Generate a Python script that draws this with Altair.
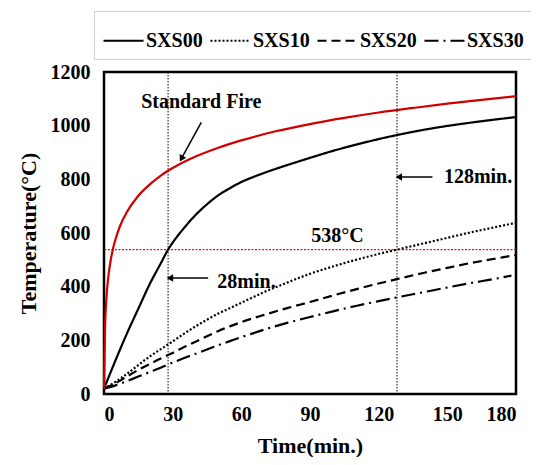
import altair as alt
import pandas as pd

# ---------------- data ----------------
series_names = ["SXS00", "SXS10", "SXS20", "SXS30"]

t_sxs = [0, 5, 10, 15, 20, 25, 28, 30, 35, 40, 45, 50, 55, 60, 65, 70, 80, 90, 100, 110, 120, 128, 140, 150, 160, 170, 180]
sxs00 = [20, 125, 225, 318, 410, 490, 538, 564, 619, 667, 707, 741, 767, 790, 808, 824, 853, 880, 906, 929, 950, 965, 985, 999, 1011, 1022, 1032]
sxs10 = [20, 45, 75, 108, 140, 168, 185, 196, 225, 252, 277, 300, 320, 340, 360, 380, 415, 448, 475, 500, 522, 538, 562, 582, 602, 620, 638]
sxs20 = [20, 40, 65, 90, 112, 133, 145, 153, 175, 195, 215, 235, 252, 268, 282, 295, 320, 343, 367, 390, 412, 428, 452, 470, 488, 503, 518]
t_sxs30 = [0, 5, 10, 15, 20, 25, 28, 30, 35, 40, 45, 50, 55, 60, 65, 70, 80, 90, 100, 110, 120, 128, 140, 150, 160, 170, 178]
sxs30 = [20, 32, 48, 65, 82, 99, 110, 117, 134, 150, 166, 182, 197, 212, 226, 240, 265, 287, 308, 328, 346, 360, 380, 397, 413, 428, 441]

t_fire = [0, 0.5, 1, 2, 3, 4, 5, 7, 10, 15, 20, 25, 30, 40, 50, 60, 75, 90, 105, 120, 135, 150, 165, 180]
fire = [20, 261, 349, 445, 502, 544, 576, 626, 678, 739, 781, 815, 842, 885, 918, 945, 979, 1006, 1029, 1049, 1066, 1082, 1096, 1110]

limit_temp = [538]
limit_times = [28, 128]

# annotations
center_labels = ["Standard Fire", "538°C"]
center_x = [42.5, 102]
center_y = [1088, 590]
left_labels = ["28min.", "128min."]
left_x = [49.5, 148.5]
left_y = [417, 807]

arrow_x1 = [42.5, 45.5, 143.5]
arrow_y1 = [1012, 432, 809]
arrow_x2 = [33.8, 28.8, 128.8]
arrow_y2 = [877, 432, 809]
arrow_angle = [209, 270, 270]

# ---------------- tables ----------------
rows = []
for name, ts, vs in [("SXS00", t_sxs, sxs00), ("SXS10", t_sxs, sxs10),
                     ("SXS20", t_sxs, sxs20), ("SXS30", t_sxs30, sxs30)]:
    for t, v in zip(ts, vs):
        rows.append({"series": name, "time": t, "temp": v})
df_sxs = pd.DataFrame(rows)
df_fire = pd.DataFrame({"time": t_fire, "temp": fire})
df_h = pd.DataFrame({"temp": limit_temp})
df_v = pd.DataFrame({"time": limit_times})
df_tc = pd.DataFrame({"label": center_labels, "time": center_x, "temp": center_y})
df_tl = pd.DataFrame({"label": left_labels, "time": left_x, "temp": left_y})
df_arrow = pd.DataFrame({"x1": arrow_x1, "y1": arrow_y1, "x2": arrow_x2, "y2": arrow_y2, "angle": arrow_angle})

FONT = "Liberation Serif"

xscale = alt.Scale(domain=[0, 180], nice=False)
yscale = alt.Scale(domain=[0, 1200], nice=False)
xaxis = alt.Axis(title="Time(min.)", values=[0, 30, 60, 90, 120, 150, 180], format="d",
                 labelPadding=10, titlePadding=11)
yaxis = alt.Axis(title="Temperature(°C)", values=[0, 200, 400, 600, 800, 1000, 1200], format="d",
                 labelPadding=14, titlePadding=10)

X = alt.X("time:Q", scale=xscale, axis=xaxis)
Y = alt.Y("temp:Q", scale=yscale, axis=yaxis)

vlines = alt.Chart(df_v).mark_rule(color="black", strokeWidth=1, strokeDash=[1.5, 1.5]).encode(x=X)
hline = alt.Chart(df_h).mark_rule(color="#e01010", strokeWidth=1.3, strokeDash=[2, 1.5]).encode(y=Y)

sxs = alt.Chart(df_sxs).mark_line(color="black", strokeWidth=2.2, interpolate="monotone").encode(
    x=X, y=Y,
    strokeDash=alt.StrokeDash(
        "series:N",
        scale=alt.Scale(domain=series_names,
                        range=[[1, 0], [2, 2], [9, 5], [14, 5, 2, 5]]),
        legend=alt.Legend(
            orient="none", legendX=-10, legendY=-61, direction="horizontal", columns=4,
            title=None, symbolType="stroke", symbolSize=1600, symbolStrokeWidth=2.2,
            symbolStrokeColor="black", labelFont=FONT, labelFontSize=20,
            labelFontWeight="bold", labelColor="black", labelOffset=1,
            columnPadding=3, padding=8, strokeColor="#cfcfcf", fillColor="white",
        ),
    ),
)

fire_line = alt.Chart(df_fire).mark_line(color="#d00000", strokeWidth=2.2, interpolate="monotone").encode(
    x=X, y=Y)

AX1 = alt.X("x1:Q", scale=xscale, axis=xaxis)
AY1 = alt.Y("y1:Q", scale=yscale, axis=yaxis)
AX2 = alt.X("x2:Q", scale=xscale, axis=xaxis)
AY2 = alt.Y("y2:Q", scale=yscale, axis=yaxis)

shafts = alt.Chart(df_arrow).mark_rule(color="black", strokeWidth=1.5).encode(
    x=AX1, y=AY1, x2="x2:Q", y2="y2:Q")
heads = alt.Chart(df_arrow).mark_point(shape="triangle-up", filled=True, color="black",
                                       size=55, opacity=1).encode(
    x=AX2, y=AY2, angle=alt.Angle("angle:Q", scale=None))

texts_c = alt.Chart(df_tc).mark_text(font=FONT, fontSize=20, fontWeight="bold", color="black",
                                     baseline="middle", align="center").encode(
    x=X, y=Y, text="label:N")
texts_l = alt.Chart(df_tl).mark_text(font=FONT, fontSize=20, fontWeight="bold", color="black",
                                     baseline="middle", align="left").encode(
    x=X, y=Y, text="label:N")

chart = alt.layer(vlines, hline, sxs, fire_line, shafts, heads, texts_c, texts_l).properties(
    width=412, height=322,
    autosize=alt.AutoSizeParams(type="none"),
    padding={"left": 96, "top": 64, "right": 15, "bottom": 63},
).configure_view(
    stroke="black", strokeWidth=2.5
).configure_axis(
    domain=False, ticks=False, grid=False,
    labelFont=FONT, labelFontSize=20, labelFontWeight="bold", labelColor="black",
    titleFont=FONT, titleFontSize=22, titleFontWeight="bold", titleColor="black",
)

chart.save("out.html", embed_options={"renderer": "svg", "actions": False})
